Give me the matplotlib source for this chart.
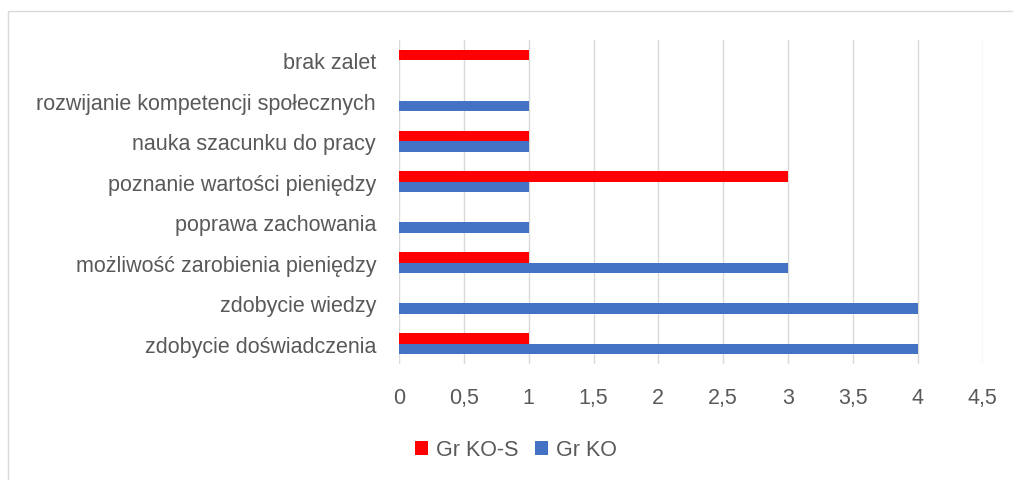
import numpy as np
import matplotlib.pyplot as plt
from matplotlib.patches import Rectangle

categories = ["zdobycie doświadczenia", "zdobycie wiedzy", "możliwość zarobienia pieniędzy",
              "poprawa zachowania", "poznanie wartości pieniędzy", "nauka szacunku do pracy",
              "rozwijanie kompetencji społecznych", "brak zalet"]
gr_ko_s = [1, 0, 1, 0, 3, 1, 0, 1]
gr_ko = [4, 4, 3, 1, 1, 1, 1, 0]
xticks = [0, 0.5, 1, 1.5, 2, 2.5, 3, 3.5, 4, 4.5]
xtick_labels = ["0", "0,5", "1", "1,5", "2", "2,5", "3", "3,5", "4", "4,5"]

plt.rcParams['font.family'] = ['Liberation Sans', 'DejaVu Sans']
txt = '#595959'

fig = plt.figure(figsize=(10.13, 4.81), dpi=100)
fig.patches.append(Rectangle((8/1013, -0.1), 1.1, 1 - 12/481 + 0.1, transform=fig.transFigure,
                             fill=False, edgecolor='#D9D9D9', linewidth=1))
ax = fig.add_axes([399/1013, 1 - 365/481, 583.5/1013, 324/481])

y = np.arange(len(categories))
h = 0.26
ax.barh(y - h/2, gr_ko, height=h, color='#4472C4', label='Gr KO', zorder=3)
ax.barh(y + h/2, gr_ko_s, height=h, color='#FF0000', label='Gr KO-S', zorder=3)

ax.set_xlim(0, 4.5)
ax.set_ylim(-0.5, len(categories) - 0.5)
ax.set_xticks(xticks)
ax.set_xticklabels(xtick_labels)
ax.set_yticks(y)
ax.set_yticklabels(categories)
ax.tick_params(axis='both', length=0, labelsize=15.5, colors=txt)
ax.tick_params(axis='x', pad=16.5)
ax.tick_params(axis='y', pad=16.5)
ax.grid(axis='x', color='#D9D9D9', linewidth=1, zorder=0)
for s in ax.spines.values():
    s.set_visible(False)

handles, labels = ax.get_legend_handles_labels()
fig.legend(handles[::-1], labels[::-1], loc='center', bbox_to_anchor=(516/1013, 1 - 451/481),
           ncol=2, frameon=False, fontsize=15.5, labelcolor=txt, handlelength=0.6,
           handleheight=0.6, handletextpad=0.35, columnspacing=0.8)

fig.savefig('out.png', dpi=100)
